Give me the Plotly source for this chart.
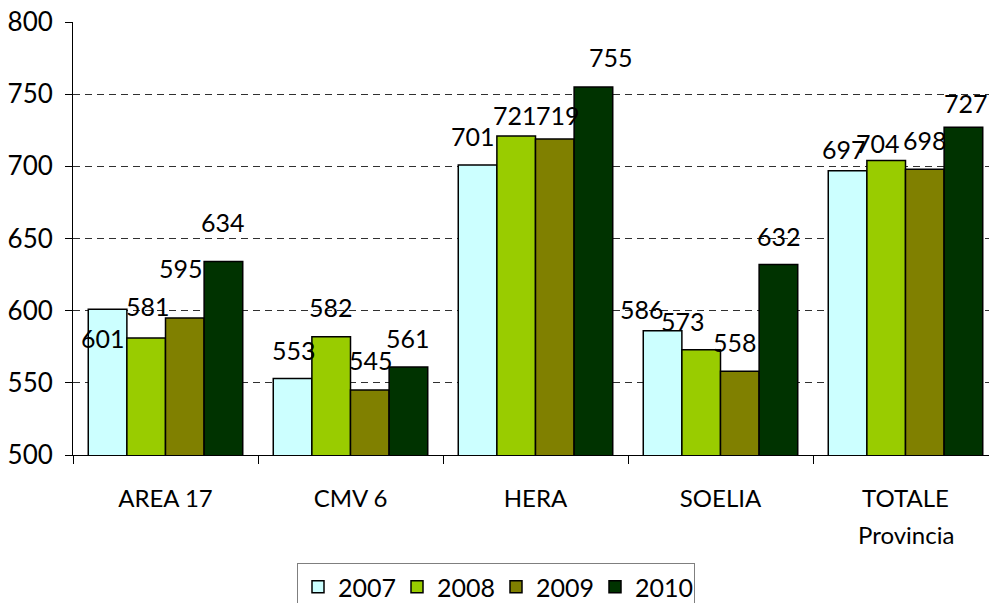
import plotly.graph_objects as go

categories = ["AREA 17", "CMV 6", "HERA", "SOELIA", "TOTALE Provincia"]
tick_labels = ["AREA 17", "CMV 6", "HERA", "SOELIA", "TOTALE<br>Provincia"]
years = ["2007", "2008", "2009", "2010"]
v2007 = [601, 553, 701, 586, 697]
v2008 = [581, 582, 721, 573, 704]
v2009 = [595, 545, 719, 558, 698]
v2010 = [634, 561, 755, 632, 727]
series = [v2007, v2008, v2009, v2010]

colors = ["#CCFFFF", "#99CC00", "#808000", "#003300"]
FONT = "Lato"

# label nudges (px) to mimic hand-placed Excel labels: (dx, dy above default)
label_dx = [[-5, 1.5, -3.5, 0], [1, 0, 1.5, 0], [-5, -1, 3.5, 18], [-21, -18, -5, 1], [-3.5, -8.5, 0, 3]]
label_dy = [[-58, 3.5, 21, 11], [0, 1, 1, 0], [0, -7.5, -5, 1], [-7.5, -0.5, 0, -0.5], [-7, -11, 0.5, -5]]

W, H = 989, 603
ML, MR, MT, MB = 73, 0, 22, 148
cat_px = 185.0
plot_w = W - ML - MR
x_max = -0.5 + plot_w / cat_px
bargap = 0.165
bar_px = cat_px * (1 - bargap) / 4

fig = go.Figure()
for i, (yr, vals) in enumerate(zip(years, series)):
    fig.add_trace(go.Bar(
        name=yr, x=categories, y=vals,
        marker=dict(color=colors[i], line=dict(color="black", width=1.5)),
    ))

annotations = []
for ci, cat in enumerate(categories):
    for si, vals in enumerate(series):
        annotations.append(dict(
            x=cat, y=vals[ci], xref="x", yref="y",
            text=str(vals[ci]), showarrow=False,
            xanchor="center", yanchor="middle",
            xshift=(si - 1.5) * bar_px + label_dx[ci][si],
            yshift=29 + label_dy[ci][si],
            font=dict(family=FONT, size=25, color="black"),
        ))

# category labels: first line as tick text, extra lines as annotations (wider line spacing)
first_lines = [t.split("<br>")[0] for t in tick_labels]
for cat, t in zip(categories, tick_labels):
    parts = t.split("<br>")
    for k, extra in enumerate(parts[1:], start=1):
        annotations.append(dict(
            x=cat, y=0, xref="x", yref="paper", text=extra, showarrow=False,
            xanchor="center", yanchor="middle", yshift=-42 - 37 * k,
            font=dict(family=FONT, size=24, color="black"),
        ))

fig.update_layout(
    width=W, height=H,
    margin=dict(l=ML, r=MR, t=MT, b=MB, pad=0, autoexpand=False),
    paper_bgcolor="white", plot_bgcolor="white",
    barmode="group", bargap=bargap, bargroupgap=0,
    font=dict(family=FONT, size=25, color="black"),
    annotations=annotations,
    showlegend=True,
    legend=dict(
        orientation="h", xref="container", yref="container",
        x=297 / W, xanchor="left", y=1 - 563 / H, yanchor="top",
        bordercolor="#7f7f7f", borderwidth=1,
        font=dict(family=FONT, size=25, color="black"),
        entrywidth=54, traceorder="normal",
    ),
)
fig.update_xaxes(
    type="category", categoryorder="array", categoryarray=categories,
    tickvals=categories, ticktext=first_lines,
    range=[-0.5, x_max], automargin=False,
    showline=True, linecolor="black", linewidth=1,
    ticks="outside", ticklen=8, tickcolor="black", tickson="boundaries",
    showgrid=False, tickfont=dict(family=FONT, size=24),
    ticklabelstandoff=22,
)
fig.update_yaxes(
    range=[500, 800], dtick=50, tick0=500, automargin=False,
    showline=True, linecolor="black", linewidth=1,
    ticks="outside", ticklen=7, tickcolor="black",
    showgrid=True, gridcolor="#303030", gridwidth=1, griddash="7px,5px",
    zeroline=False, tickfont=dict(family=FONT, size=26),
    ticklabelstandoff=7,
)

fig.write_html(
    "out.html",
    config={"displayModeBar": False},
    post_script="document.body.style.margin='0';document.body.style.overflow='hidden';",
)
